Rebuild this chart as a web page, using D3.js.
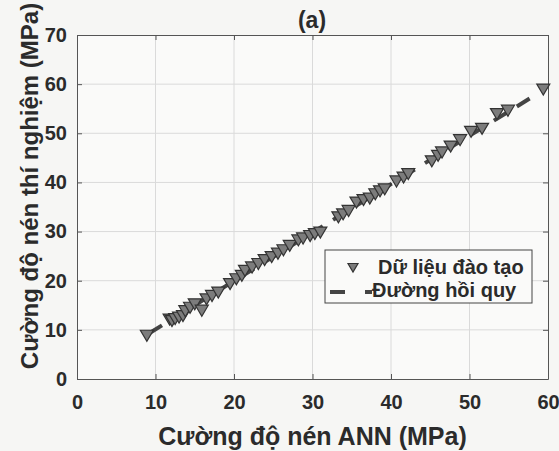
<!DOCTYPE html>
<html lang="vi">
<head>
<meta charset="utf-8">
<title>Cuong do nen</title>
<script src="https://cdn.jsdelivr.net/npm/d3@7"></script>
<style>
  body { margin: 0; background: #f6f6f4; }
  text { font-family: "Liberation Sans", Arial, sans-serif; fill: #2b2b2b; font-weight: bold; }
</style>
</head>
<body>
<div id="chart"></div>
<script>
const annValues = [8.9, 11.8, 12.1, 12.5, 13.0, 13.5, 13.8, 14.4, 15.0, 15.9, 16.5, 17.2, 18.0,
  19.5, 20.3, 21.0, 21.4, 22.3, 23.1, 23.9, 24.8, 25.6, 26.3, 27.1, 28.2, 28.8, 29.7, 30.3, 31.0,
  33.3, 33.9, 34.6, 35.6, 36.5, 37.3, 38.0, 38.6, 39.2, 40.7, 41.6, 42.2,
  45.2, 46.0, 46.5, 47.6, 48.8, 50.2, 51.6, 53.5, 54.9, 59.4];
const testValues = [9.0, 12.3, 12.0, 12.4, 12.7, 13.0, 14.0, 14.7, 15.4, 14.1, 16.4, 17.1, 17.8,
  19.5, 20.5, 21.2, 22.2, 22.9, 23.6, 24.4, 25.0, 25.7, 26.4, 27.3, 28.4, 28.8, 29.3, 29.7, 30.0,
  33.1, 33.7, 34.4, 36.1, 36.6, 36.9, 37.8, 38.4, 38.8, 40.4, 41.2, 41.9,
  44.5, 45.6, 46.3, 47.5, 48.8, 50.5, 51.1, 54.1, 54.8, 59.1];
const fitX = [9.2, 58.0];
const fitY = [9.3, 57.4];
const xTicks = [0, 10, 20, 30, 40, 50, 60];
const yTicks = [0, 10, 20, 30, 40, 50, 60, 70];
const legendLabels = ["Dữ liệu đào tạo", "Đường hồi quy"];

const w = 559, h = 451;
const margin = {left: 77, right: 11, top: 35, bottom: 72};

const svg = d3.select("#chart").append("svg")
  .attr("width", w)
  .attr("height", h);

const x = d3.scaleLinear().domain([0, 60]).range([margin.left, w - margin.right]);
const y = d3.scaleLinear().domain([0, 70]).range([h - margin.bottom, margin.top]);

// plot box background
svg.append("rect")
  .attr("x", x(0)).attr("y", y(70))
  .attr("width", x(60) - x(0)).attr("height", y(0) - y(70))
  .attr("fill", "#fafaf9");

// grid
svg.append("g").selectAll("line")
  .data(xTicks.slice(1, -1))
  .enter().append("line")
  .attr("x1", d => x(d)).attr("x2", d => x(d))
  .attr("y1", y(0)).attr("y2", y(70))
  .attr("stroke", "#dadada").attr("stroke-width", 1);
svg.append("g").selectAll("line")
  .data(yTicks.slice(1, -1))
  .enter().append("line")
  .attr("y1", d => y(d)).attr("y2", d => y(d))
  .attr("x1", x(0)).attr("x2", x(60))
  .attr("stroke", "#dadada").attr("stroke-width", 1);

// axes (ticks inside, box on)
const xAxis = d3.axisBottom(x).tickValues(xTicks).tickSizeInner(-5).tickSizeOuter(0).tickPadding(16);
const yAxis = d3.axisLeft(y).tickValues(yTicks).tickSizeInner(-5).tickSizeOuter(0).tickPadding(10);

const gx = svg.append("g").attr("transform", `translate(0,${y(0)})`).call(xAxis);
const gy = svg.append("g").attr("transform", `translate(${x(0)},0)`).call(yAxis);
svg.append("g").attr("transform", `translate(0,${y(70)})`)
  .call(d3.axisTop(x).tickValues(xTicks).tickSizeInner(-5).tickSizeOuter(0).tickFormat(""));
svg.append("g").attr("transform", `translate(${x(60)},0)`)
  .call(d3.axisRight(y).tickValues(yTicks).tickSizeInner(-5).tickSizeOuter(0).tickFormat(""));

svg.selectAll(".domain, .tick line").attr("stroke", "#555").attr("stroke-width", 1);
svg.selectAll(".tick text").style("font-size", "20px").attr("fill", "#2b2b2b")
  .style("font-family", "'Liberation Sans', Arial, sans-serif").style("font-weight", "bold");

// regression line
const line = d3.line().x(d => x(d[0])).y(d => y(d[1]));
svg.append("path")
  .datum(d3.zip(fitX, fitY))
  .attr("d", line)
  .attr("fill", "none")
  .attr("stroke", "#444")
  .attr("stroke-width", 4)
  .attr("stroke-dasharray", "15,12");

// markers (downward triangles)
const tri = "M-6.5,-4.5L6.5,-4.5L0,6.5Z";
svg.append("g").selectAll("path")
  .data(d3.zip(annValues, testValues))
  .enter().append("path")
  .attr("d", tri)
  .attr("transform", d => `translate(${x(d[0])},${y(d[1])})`)
  .attr("fill", "#7c7c7c")
  .attr("stroke", "#333")
  .attr("stroke-width", 1.2);

// title & labels
svg.append("text").attr("x", 312).attr("y", 28).attr("text-anchor", "middle")
  .style("font-size", "23px").text("(a)");
svg.append("text").attr("x", x(30)).attr("y", 445).attr("text-anchor", "middle")
  .style("font-size", "25px").text("Cường độ nén ANN (MPa)");
svg.append("text").attr("transform", "translate(38,186) rotate(-90)")
  .attr("text-anchor", "middle")
  .style("font-size", "24px").text("Cường độ nén thí nghiệm (MPa)");

// legend
const lg = svg.append("g").attr("transform", "translate(325,250)");
lg.append("rect").attr("width", 207).attr("height", 53)
  .attr("fill", "#fafaf9").attr("stroke", "#444").attr("stroke-width", 1);
lg.append("path").attr("d", "M-5,-3.5L5,-3.5L0,5Z").attr("transform", "translate(28,17)")
  .attr("fill", "#7c7c7c").attr("stroke", "#333").attr("stroke-width", 1.2);
lg.append("line").attr("x1", 5).attr("x2", 47).attr("y1", 42).attr("y2", 42)
  .attr("stroke", "#444").attr("stroke-width", 4).attr("stroke-dasharray", "15,20");
lg.selectAll("text.lab")
  .data(legendLabels)
  .enter().append("text")
  .attr("x", (d, i) => i === 0 ? 53 : 47).attr("y", (d, i) => 24 + i * 23)
  .style("font-size", "20px")
  .text(d => d);
</script>
</body>
</html>
